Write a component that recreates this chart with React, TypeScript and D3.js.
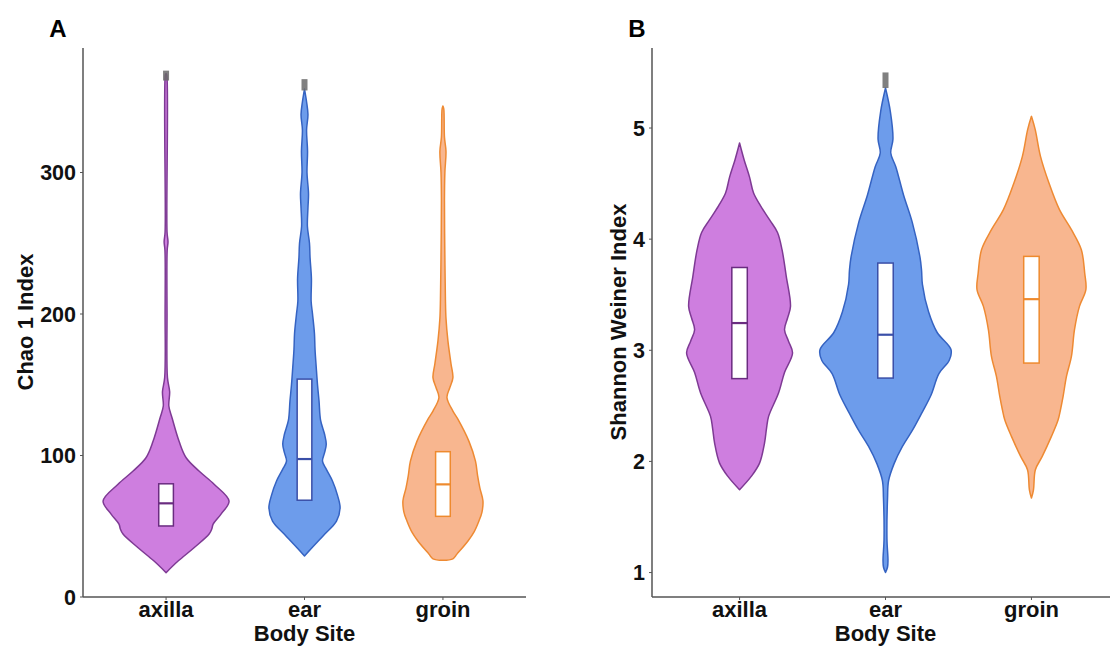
import React from "react";
import * as d3 from "d3";

const sites = ["axilla", "ear", "groin"];

// Violin profiles: [value, half-width in category units]
const chaoAxilla: [number, number][] = [
  [17.2, 0], [25.4, 0.087], [34.8, 0.202], [44.5, 0.311], [48, 0.33], [51.5, 0.34], [58.6, 0.397],
  [67.8, 0.455], [79.7, 0.347], [89, 0.238], [98.4, 0.145], [110, 0.094], [126.7, 0.043],
  [135, 0.02], [145, 0.026], [155, 0.01], [200, 0.007], [245, 0.008], [251, 0.014], [258, 0.007],
  [369, 0.005], [370, 0],
];
const chaoEar: [number, number][] = [
  [29, 0], [34.8, 0.054], [44.3, 0.145], [53.7, 0.231], [63, 0.257], [72, 0.238], [82, 0.202],
  [90, 0.159], [96, 0.13], [102, 0.145], [108, 0.157], [115, 0.145], [125, 0.116], [138.5, 0.105],
  [150, 0.094], [162, 0.085], [175, 0.076], [186, 0.072], [200, 0.058], [209, 0.048], [225, 0.05],
  [240, 0.04], [250, 0.036], [262, 0.021], [275, 0.025], [285, 0.029], [300, 0.018], [315, 0.022],
  [330, 0.015], [341, 0.025], [350, 0.015], [359, 0],
];
const chaoGroin: [number, number][] = [
  [26, 0], [27, 0.072], [30.3, 0.101], [39.6, 0.181], [46, 0.225], [53.7, 0.26], [60, 0.282],
  [68, 0.289], [77, 0.267], [86, 0.25], [96, 0.235], [110, 0.188], [125.7, 0.108], [131.4, 0.072],
  [141, 0.029], [148, 0.05], [155, 0.072], [165, 0.058], [181, 0.036], [197, 0.022], [210, 0.018],
  [240, 0.014], [280, 0.011], [300, 0.014], [315, 0.022], [325, 0.011], [345, 0.006], [347, 0],
];

const shannonAxilla: [number, number][] = [
  [1.745, 0], [1.865, 0.08], [1.985, 0.137], [2.165, 0.171], [2.3, 0.185], [2.405, 0.199],
  [2.615, 0.267], [2.8, 0.308], [2.975, 0.363], [3.08, 0.336], [3.185, 0.308], [3.29, 0.329],
  [3.395, 0.349], [3.665, 0.32], [3.905, 0.291], [4.06, 0.26], [4.175, 0.205], [4.3, 0.144],
  [4.415, 0.096], [4.56, 0.068], [4.715, 0.031], [4.865, 0],
];
const shannonEar: [number, number][] = [
  [1.0, 0], [1.05, 0.014], [1.11, 0.017], [1.3, 0.01], [1.67, 0.014], [1.825, 0.021],
  [1.98, 0.059], [2.135, 0.116], [2.29, 0.189], [2.446, 0.253], [2.6, 0.313], [2.79, 0.366],
  [2.91, 0.437], [3.005, 0.449], [3.16, 0.354], [3.346, 0.295], [3.594, 0.253], [3.72, 0.247],
  [3.84, 0.236], [4.153, 0.183], [4.4, 0.123], [4.65, 0.071], [4.775, 0.036], [4.9, 0.051],
  [5.15, 0.033], [5.36, 0],
];
const shannonGroin: [number, number][] = [
  [1.67, 0], [1.745, 0.014], [1.925, 0.027], [2.045, 0.074], [2.225, 0.137], [2.375, 0.183],
  [2.465, 0.199], [2.585, 0.217], [2.765, 0.24], [2.945, 0.274], [3.185, 0.295], [3.395, 0.329],
  [3.545, 0.373], [3.695, 0.365], [3.905, 0.342], [4.085, 0.274], [4.265, 0.192], [4.505, 0.12],
  [4.745, 0.062], [4.985, 0.026], [5.105, 0],
];

// Box summaries: [q1, median, q3]
const chaoBoxes: [number, number, number][] = [[50.2, 66.2, 80], [68.4, 97.5, 154], [57, 79.6, 102.7]];
const shannonBoxes: [number, number, number][] = [[2.745, 3.245, 3.745], [2.75, 3.14, 3.785], [2.885, 3.46, 3.845]];

// Grey marks at the top of some violins: [site index, low, high]
const chaoCaps: [number, number, number][] = [[0, 365, 372], [1, 358, 366]];
const shannonCaps: [number, number, number][] = [[1, 5.36, 5.5]];

const chaoTicks = [0, 100, 200, 300];
const shannonTicks = [1, 2, 3, 4, 5];

const fills = ["#CE7EDF", "#6D9CEB", "#F8B68F"];
const strokes = ["#7E3A94", "#3563C2", "#EE8A33"];
const boxStrokes = ["#6A2C80", "#3A4FA8", "#EE8A2E"];

const FONT = "'Liberation Sans', Arial, sans-serif";

type PanelProps = {
  letter: string;
  letterX: number;
  axisX: number;
  axisRight: number;
  yDomain: [number, number];
  ticks: number[];
  profiles: [number, number][][];
  boxes: [number, number, number][];
  caps: [number, number, number][];
  yTitle: string;
  yTitleX: number;
};

function Panel(p: PanelProps) {
  const top = 48;
  const bottom = 597;
  const x = d3.scalePoint<string>().domain(sites).range([p.axisX, p.axisRight]).padding(0.6);
  const unit = x.step();
  const y = d3.scaleLinear().domain(p.yDomain).range([bottom, top]);
  const boxHalf = 0.053 * unit;

  return (
    <g>
      <text x={p.letterX} y={37} fontFamily={FONT} fontWeight="bold" fontSize={24} textAnchor="middle" fill="#000">
        {p.letter}
      </text>
      {p.profiles.map((prof, i) => {
        const cx = x(sites[i]) as number;
        const area = d3
          .area<[number, number]>()
          .y((d) => y(d[0]))
          .x0((d) => cx - d[1] * unit)
          .x1((d) => cx + d[1] * unit)
          .curve(d3.curveCatmullRom.alpha(0.5));
        return (
          <path key={"v" + i} d={area(prof) || ""} fill={fills[i]} stroke={strokes[i]} strokeWidth={1.5} strokeLinejoin="round" />
        );
      })}
      {p.caps.map((c, i) => {
        const cx = x(sites[c[0]]) as number;
        return (
          <rect key={"c" + i} x={cx - 3} width={6} y={y(c[2])} height={y(c[1]) - y(c[2])} fill="#6a6a6a" opacity={0.85} />
        );
      })}
      {p.boxes.map((b, i) => {
        const cx = x(sites[i]) as number;
        return (
          <g key={"b" + i}>
            <rect x={cx - boxHalf} width={boxHalf * 2} y={y(b[2])} height={y(b[0]) - y(b[2])} fill="#fff" stroke={boxStrokes[i]} strokeWidth={1.5} />
            <line x1={cx - boxHalf} x2={cx + boxHalf} y1={y(b[1])} y2={y(b[1])} stroke={boxStrokes[i]} strokeWidth={2.2} />
          </g>
        );
      })}
      <line x1={p.axisX} x2={p.axisX} y1={top} y2={bottom} stroke="#555" strokeWidth={1.5} />
      <line x1={p.axisX} x2={p.axisRight} y1={bottom} y2={bottom} stroke="#555" strokeWidth={1.5} />
      {p.ticks.map((t) => (
        <g key={"t" + t}>
          <line x1={p.axisX - 3} x2={p.axisX} y1={y(t)} y2={y(t)} stroke="#555" strokeWidth={1} />
          <text x={p.axisX - 7} y={y(t)} dy="0.36em" textAnchor="end" fontFamily={FONT} fontWeight="bold" fontSize={21.5} fill="#111">
            {t}
          </text>
        </g>
      ))}
      {sites.map((s) => (
        <g key={"x" + s}>
          <line x1={x(s) as number} x2={x(s) as number} y1={bottom} y2={bottom + 3} stroke="#555" strokeWidth={1} />
          <text x={x(s) as number} y={617} textAnchor="middle" fontFamily={FONT} fontWeight="bold" fontSize={22} fill="#111">
            {s}
          </text>
        </g>
      ))}
      <text
        x={x("ear") as number}
        y={641}
        textAnchor="middle"
        fontFamily={FONT}
        fontWeight="bold"
        fontSize={22}
        fill="#111"
      >
        Body Site
      </text>
      <text
        transform={`translate(${p.yTitleX},322) rotate(-90)`}
        textAnchor="middle"
        fontFamily={FONT}
        fontWeight="bold"
        fontSize={22}
        fill="#111"
      >
        {p.yTitle}
      </text>
    </g>
  );
}

export default function App() {
  return (
    <svg width={1110} height={650} style={{ position: "fixed", left: 0, top: 0, background: "#fff" }}>
      <rect width={1110} height={650} fill="#fff" />
      <Panel
        letter="A"
        letterX={58}
        axisX={83}
        axisRight={526}
        yDomain={[0, 388]}
        ticks={chaoTicks}
        profiles={[chaoAxilla, chaoEar, chaoGroin]}
        boxes={chaoBoxes}
        caps={chaoCaps}
        yTitle="Chao 1 Index"
        yTitleX={33}
      />
      <Panel
        letter="B"
        letterX={637}
        axisX={652}
        axisRight={1119}
        yDomain={[0.78, 5.72]}
        ticks={shannonTicks}
        profiles={[shannonAxilla, shannonEar, shannonGroin]}
        boxes={shannonBoxes}
        caps={shannonCaps}
        yTitle="Shannon Weiner Index"
        yTitleX={626}
      />
    </svg>
  );
}
